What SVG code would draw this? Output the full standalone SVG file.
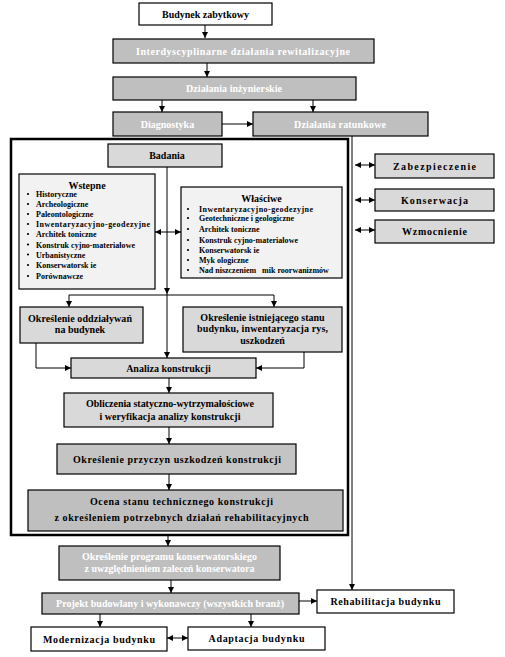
<svg xmlns="http://www.w3.org/2000/svg" width="505" height="657" viewBox="0 0 505 657">
<defs>
<marker id="ah" markerWidth="6" markerHeight="6" refX="6" refY="3" orient="auto-start-reverse" markerUnits="userSpaceOnUse">
<path d="M0,0 L6,3 L0,6 z" fill="#000"/>
</marker>
<style>
text{font-family:"Liberation Serif","Times New Roman",serif;font-weight:bold;text-anchor:middle;font-size:10px;fill:#000}
.w{fill:#fff}
.b{stroke:#000;stroke-width:1.2}
.white{fill:#fff}
.dark{fill:#bfbfbf}
.mid{fill:#c4c4c4}
.light{fill:#d9d9d9}
.pale{fill:#f2f2f2}
.li{font-size:8px;text-anchor:start}
.c{stroke:#000;stroke-width:1;fill:none}
.a{marker-end:url(#ah)}
.d{marker-start:url(#ah);marker-end:url(#ah)}
</style>
</defs>
<rect width="505" height="657" fill="#fff"/>

<g id="frame"><rect x="11" y="139" width="337" height="396" fill="none" stroke="#000" stroke-width="2.5"/></g>

<g id="connectors">
<line class="c a" x1="205" y1="25" x2="205" y2="38"/>
<line class="c a" x1="207" y1="63" x2="207" y2="77"/>
<line class="c a" x1="162" y1="100" x2="162" y2="112"/>
<line class="c a" x1="313" y1="100" x2="313" y2="112"/>
<line class="c a" x1="222" y1="124" x2="253" y2="124"/>
<line class="c a" x1="352" y1="136" x2="352" y2="590"/>
<line class="c d" x1="355" y1="165" x2="375" y2="165"/>
<line class="c d" x1="355" y1="200" x2="375" y2="200"/>
<line class="c d" x1="355" y1="230" x2="375" y2="230"/>
<line class="c a" x1="167" y1="167" x2="167" y2="294"/>
<line class="c a" x1="167" y1="294" x2="167" y2="358"/>
<line class="c d" x1="155" y1="232" x2="181" y2="232"/>
<line class="c" x1="69" y1="295" x2="274" y2="295"/>
<line class="c a" x1="69" y1="295" x2="69" y2="307"/>
<line class="c a" x1="274" y1="295" x2="274" y2="307"/>
<polyline class="c a" points="36,343 36,368 71,368"/>
<polyline class="c a" points="304,352 304,368 256,368"/>
<line class="c a" x1="169" y1="378" x2="169" y2="393"/>
<line class="c a" x1="169" y1="427" x2="169" y2="444"/>
<line class="c a" x1="169" y1="474" x2="169" y2="490"/>
<line class="c a" x1="168" y1="535" x2="168" y2="546"/>
<line class="c a" x1="171" y1="580" x2="171" y2="593"/>
<line class="c a" x1="299" y1="601" x2="317" y2="601"/>
<line class="c a" x1="100" y1="614" x2="100" y2="627"/>
<line class="c a" x1="251" y1="614" x2="251" y2="627"/>
<line class="c d" x1="167" y1="638" x2="188" y2="638"/>
</g>

<g id="budynek"><rect class="b white" x="139" y="3" width="133" height="22"/><text x="205.5" y="18" font-size="11">Budynek zabytkowy</text></g>
<g id="interdyscyplinarne"><rect class="b dark" x="113" y="39" width="261" height="24"/><text class="w" x="243" y="54.5" textLength="214">Interdyscyplinarne działania rewitalizacyjne</text></g>
<g id="inzynierskie"><rect class="b dark" x="113" y="77" width="243" height="23"/><text class="w" x="234" y="92" textLength="96">Działania inżynierskie</text></g>
<g id="diagnostyka"><rect class="b dark" x="113" y="112" width="109" height="24"/><text class="w" x="167.5" y="127.5">Diagnostyka</text></g>
<g id="ratunkowe"><rect class="b dark" x="253" y="112" width="175" height="24"/><text class="w" x="340" y="127.5" textLength="92">Działania ratunkowe</text></g>

<g id="zabezpieczenie"><rect class="b light" x="375" y="154" width="119" height="24"/><text x="434.5" y="169.5" textLength="83">Zabezpieczenie</text></g>
<g id="konserwacja"><rect class="b light" x="375" y="189" width="119" height="22"/><text x="434.5" y="203.5" textLength="67">Konserwacja</text></g>
<g id="wzmocnienie"><rect class="b light" x="375" y="220" width="119" height="23"/><text x="434.5" y="235" textLength="65">Wzmocnienie</text></g>

<g id="badania"><rect class="b light" x="108" y="144" width="114" height="23"/><text x="167" y="159">Badania</text></g>

<g id="wstepne"><rect class="b pale" x="19" y="174" width="136" height="115"/>
<text x="87" y="189" font-size="10.5">Wstepne</text>
<g fill="#000"><circle cx="28" cy="194" r="1.1"/><circle cx="28" cy="204" r="1.1"/><circle cx="28" cy="214" r="1.1"/><circle cx="28" cy="224" r="1.1"/><circle cx="28" cy="234" r="1.1"/><circle cx="28" cy="244.5" r="1.1"/><circle cx="28" cy="254.5" r="1.1"/><circle cx="28" cy="265" r="1.1"/><circle cx="28" cy="276" r="1.1"/></g>
<text class="li" x="36" y="197">Historyczne</text>
<text class="li" x="36" y="207">Archeologiczne</text>
<text class="li" x="36" y="217">Paleontologiczne</text>
<text class="li" x="36" y="227" textLength="114">Inwentaryzacyjno-geodezyjne</text>
<text class="li" x="36" y="237">Architek toniczne</text>
<text class="li" x="36" y="247.5" textLength="99">Konstruk cyjno-materiałowe</text>
<text class="li" x="36" y="257.5">Urbanistyczne</text>
<text class="li" x="36" y="268">Konserwatorsk ie</text>
<text class="li" x="36" y="279">Porównawcze</text>
</g>

<g id="wlasciwe"><rect class="b pale" x="181" y="187" width="161" height="91"/>
<text x="261.5" y="201.5" font-size="10.5">Właściwe</text>
<g fill="#000"><circle cx="188" cy="209" r="1.1"/><circle cx="188" cy="218" r="1.1"/><circle cx="188" cy="229" r="1.1"/><circle cx="188" cy="240" r="1.1"/><circle cx="188" cy="250" r="1.1"/><circle cx="188" cy="260" r="1.1"/><circle cx="188" cy="270" r="1.1"/></g>
<text class="li" x="199" y="212" textLength="114">Inwentaryzacyjno-geodezyjne</text>
<text class="li" x="199" y="221">Geotechniczne  i geologiczne</text>
<text class="li" x="199" y="232">Architek toniczne</text>
<text class="li" x="199" y="243" textLength="99">Konstruk cyjno-materiałowe</text>
<text class="li" x="199" y="253">Konserwatorsk ie</text>
<text class="li" x="199" y="263">Myk ologiczne</text>
<text class="li" x="199" y="273" xml:space="preserve">Nad niszczeniem   mik roorwanizmów</text>
</g>

<g id="oddzialywan"><rect class="b light" x="20" y="307" width="123" height="36"/><text x="80" y="321.5" textLength="104" font-size="9.5">Określenie oddziaływań</text><text x="80" y="333" font-size="9.5">na budynek</text></g>
<g id="istniejacego"><rect class="b light" x="183" y="307" width="159" height="45"/><text x="262.5" y="320.5">Określenie istniejącego stanu</text><text x="262.5" y="332" textLength="131">budynku, inwentaryzacja rys,</text><text x="262.5" y="343.5">uszkodzeń</text></g>
<g id="analiza"><rect class="b light" x="71" y="358" width="185" height="20"/><text x="168.5" y="371.5">Analiza konstrukcji</text></g>
<g id="obliczenia"><rect class="b light" x="64" y="393" width="209" height="34"/><text x="170" y="406.5" textLength="168">Obliczenia statyczno-wytrzymałościowe</text><text x="170" y="419.5">i weryfikacja analizy konstrukcji</text></g>
<g id="przyczyn"><rect class="b mid" x="57" y="444" width="239" height="30"/><text x="177" y="463" font-size="11" textLength="208">Określenie przyczyn uszkodzeń konstrukcji</text></g>
<g id="ocena"><rect class="b dark" x="28" y="490" width="315" height="41"/><text x="181.5" y="504.5" font-size="10.5" textLength="183">Ocena stanu technicznego konstrukcji</text><text x="181.5" y="520.5" font-size="10.5" textLength="254">z określeniem potrzebnych działań rehabilitacyjnych</text></g>

<g id="programu"><rect class="b dark" x="59" y="546" width="221" height="34"/><text class="w" x="169.5" y="559.5" textLength="175">Określenie programu konserwatorskiego</text><text class="w" x="169.5" y="571.5" textLength="170">z uwzględnieniem zaleceń konserwatora</text></g>
<g id="projekt"><rect class="b dark" x="42" y="593" width="257" height="21"/><text class="w" x="170" y="607" textLength="228">Projekt budowlany i wykonawczy (wszystkich branż)</text></g>
<g id="rehabilitacja"><rect class="b white" x="317" y="590" width="137" height="23"/><text x="385.5" y="605" font-size="10.5" textLength="110">Rehabilitacja budynku</text></g>
<g id="modernizacja"><rect class="b white" x="31" y="627" width="136" height="24"/><text x="99" y="642.5" font-size="10.5" textLength="112">Modernizacja budynku</text></g>
<g id="adaptacja"><rect class="b white" x="188" y="627" width="137" height="23"/><text x="256.5" y="642" font-size="10.5" textLength="96">Adaptacja budynku</text></g>
</svg>
